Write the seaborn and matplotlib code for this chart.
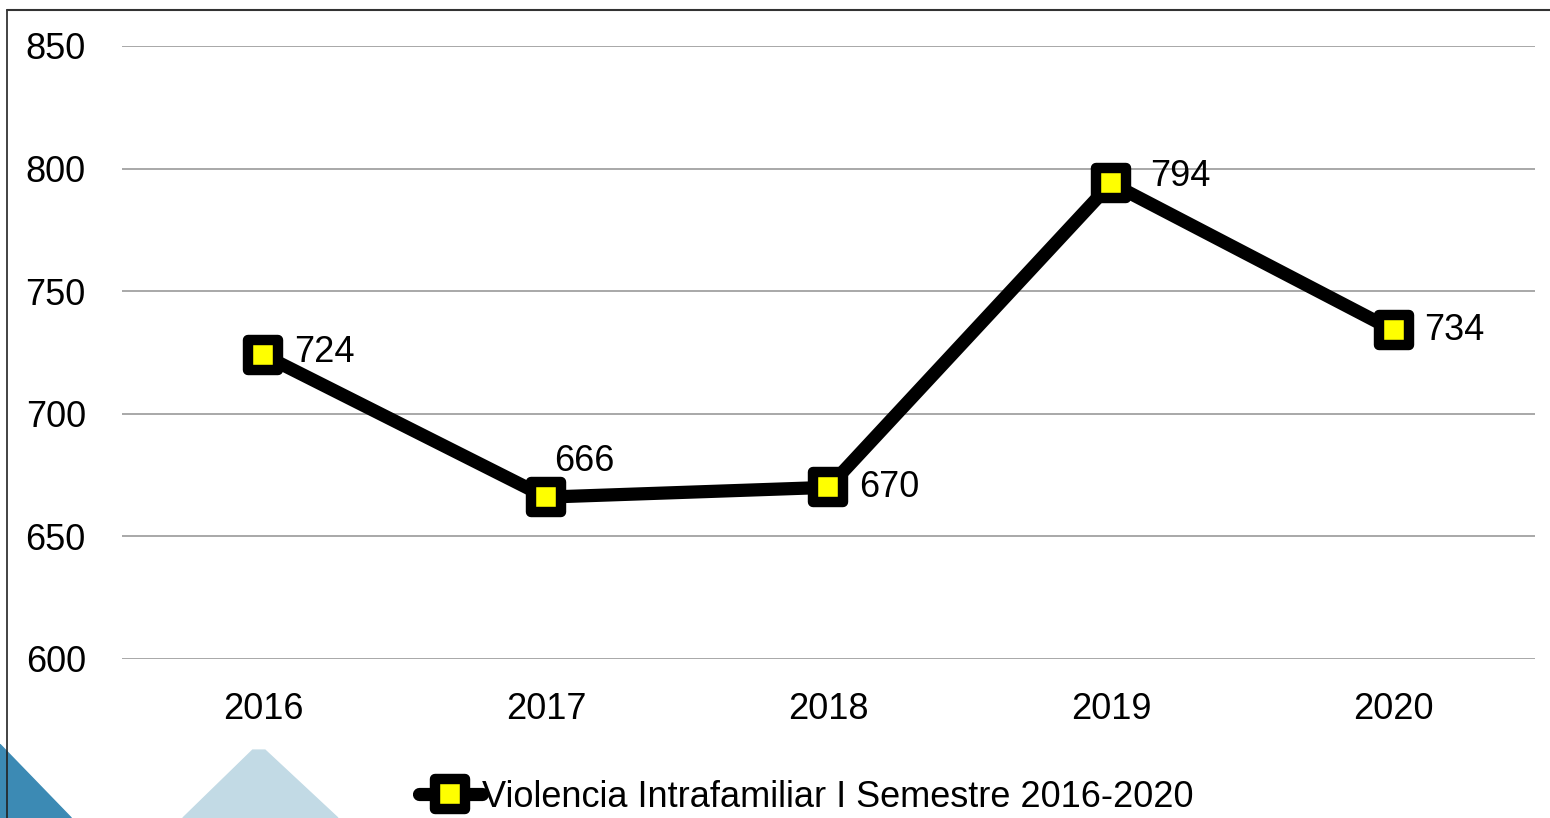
import matplotlib.pyplot as plt
import pandas as pd
import seaborn as sns
from matplotlib.markers import MarkerStyle
from matplotlib.patches import Polygon
from matplotlib.lines import Line2D

years = ['2016', '2017', '2018', '2019', '2020']
casos = [724, 666, 670, 794, 734]
serie = 'Violencia Intrafamiliar I Semestre 2016-2020'
yticks = [600, 650, 700, 750, 800, 850]

df = pd.DataFrame({'year': years, 'casos': casos})

sns.set_theme(style='white')
plt.rcParams['font.family'] = ['Liberation Sans', 'DejaVu Sans']
plt.rcParams['text.color'] = 'black'
plt.rcParams['xtick.color'] = 'black'
plt.rcParams['ytick.color'] = 'black'

fig = plt.figure(figsize=(15.5, 8.18), dpi=100)
ax = fig.add_axes([0.0787, 0.1944, 0.9116, 0.7494])

# decorative shapes bottom-left
fig.patches.append(Polygon([[0, 0.09], [0.046, 0], [0, 0]], closed=True,
                           transform=fig.transFigure, color='#3c8ab4', zorder=0))
fig.patches.append(Polygon([[0.118, 0], [0.163, 0.083], [0.171, 0.083], [0.218, 0]], closed=True,
                           transform=fig.transFigure, color='#c2dae5', zorder=0))
# outer frame
fig.add_artist(Line2D([0.0045, 0.0045], [0, 0.988], transform=fig.transFigure, color='#222222', lw=1.2))
fig.add_artist(Line2D([0.0045, 1], [0.988, 0.988], transform=fig.transFigure, color='#333333', lw=1.5))

mk = MarkerStyle('s', joinstyle='round')
sns.lineplot(data=df, x='year', y='casos', ax=ax, color='black', lw=9.5,
             marker=mk, markersize=22, markerfacecolor='#ffff00',
             markeredgecolor='black', markeredgewidth=7.5, label=serie, sort=False)

offsets = [(22, 2), (6, 26), (22, 0), (28, 5), (22, 0)]
for i, (x, v) in enumerate(zip(years, casos)):
    ax.annotate(str(v), (i, v), xytext=offsets[i], textcoords='offset points',
                ha='left', va='center', fontsize=26, color='black')

ax.set_xlim(-0.5, 4.5)
ax.set_ylim(600, 850)
ax.set_yticks(yticks)
ax.set_yticklabels([str(t) for t in yticks])
ax.yaxis.grid(True, color='#9a9a9a', lw=1.2)
ax.set_axisbelow(True)
for s in ax.spines.values():
    s.set_visible(False)
ax.tick_params(axis='y', labelsize=26, pad=26, length=0, labelcolor='black')
ax.tick_params(axis='x', labelsize=26, pad=24, length=0, labelcolor='black')
ax.set_xlabel('')
ax.set_ylabel('')

leg = ax.legend(loc='center', bbox_to_anchor=(0.484, -0.226), frameon=False, fontsize=26,
                handlelength=1.75, handletextpad=0.0, borderaxespad=0)
for t in leg.get_texts():
    t.set_color('black')

fig.savefig('out.png', dpi=100)
